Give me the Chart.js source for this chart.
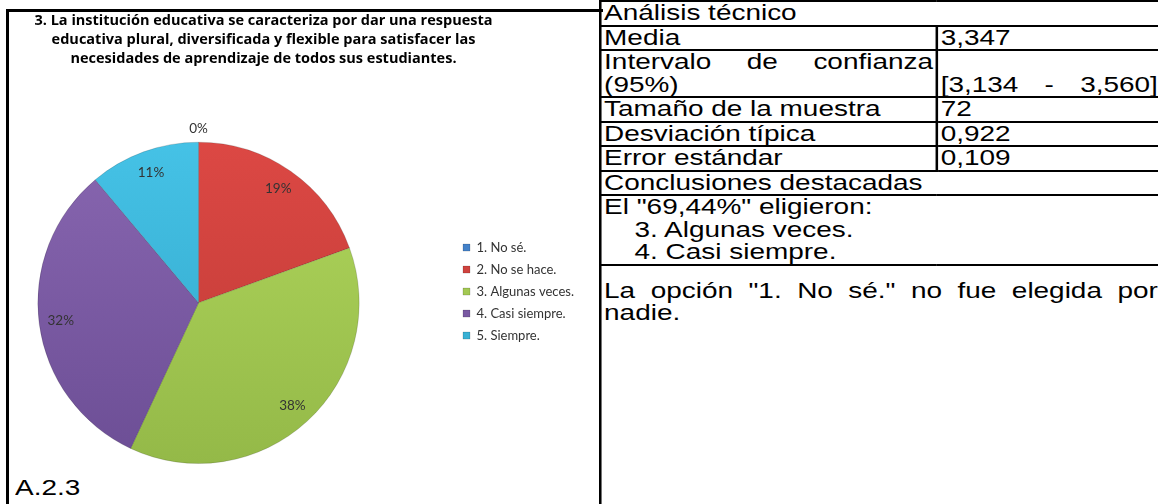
<!DOCTYPE html>
<html>
<head>
<meta charset="utf-8">
<script src="https://cdn.jsdelivr.net/npm/chart.js@4.4.0/dist/chart.umd.min.js"></script>
<style>
  html, body { margin: 0; padding: 0; background: #fff; width: 1158px; height: 504px; overflow: hidden; }
  #marco { position: absolute; left: 6px; top: 9px; width: 594px; height: 500px; border-left: 3px solid #000; border-top: 3px solid #000; }
  #grafico { position: absolute; left: -57px; top: 12px; width: 655px; height: 452px; }
  #codigo { position: absolute; left: 15px; top: 476px; font-family: "Liberation Sans", Arial, sans-serif; font-size: 22px; line-height: 24px; transform: scaleX(1.27); transform-origin: 0 0; }
  #tabla { position: absolute; left: 599px; top: 0; transform: scaleX(1.27); transform-origin: 0 0; }
  table { border-collapse: collapse; table-layout: fixed; width: 442px; font-family: "Liberation Sans", Arial, sans-serif; font-size: 22px; line-height: 22.5px; color: #000; }
  td { border: 2px solid #000; padding: 0 2px; vertical-align: top; }
  .just { text-align: justify; }
  .abajo { vertical-align: bottom; text-align: justify; text-align-last: justify; }
  .sangria { padding-left: 24px; }
  .final { height: 260px; padding-top: 14px; }
</style>
</head>
<body>
<div id="marco"></div>
<div id="grafico"><canvas id="chartPregunta"></canvas></div>
<div id="codigo">A.2.3</div>
<div id="tabla">
  <table>
    <colgroup><col style="width:265px"><col style="width:177px"></colgroup>
    <tr><td colspan="2">Análisis técnico</td></tr>
    <tr><td>Media</td><td>3,347</td></tr>
    <tr><td class="just">Intervalo de confianza (95%)</td><td class="abajo">[3,134 - 3,560]</td></tr>
    <tr><td>Tamaño de la muestra</td><td>72</td></tr>
    <tr><td>Desviación típica</td><td>0,922</td></tr>
    <tr><td>Error estándar</td><td>0,109</td></tr>
    <tr><td colspan="2">Conclusiones destacadas</td></tr>
    <tr><td colspan="2">El "69,44%" eligieron:<div class="sangria">3. Algunas veces.</div><div class="sangria">4. Casi siempre.</div></td></tr>
    <tr><td colspan="2" class="final just">La opción "1. No sé." no fue elegida por nadie.</td></tr>
  </table>
</div>

<script>
const titulo = [
    '3. La institución educativa se caracteriza por dar una respuesta',
    'educativa plural, diversificada y flexible para satisfacer las',
    'necesidades de aprendizaje de todos sus estudiantes.'
];
const categorias = ['1. No sé.', '2. No se hace.', '3. Algunas veces.', '4. Casi siempre.', '5. Siempre.'];
const respuestas = [0, 14, 27, 23, 8]; // 72 encuestados
const coloresClaros = ['#4A8AD2', '#DC4844', '#B0D65C', '#8866B0', '#45C2E6'];
const coloresOscuros = ['#3570B6', '#BD3A35', '#94B948', '#6C4E95', '#31A5C8'];

// degradado vertical para imitar el biselado de Excel
function relleno(context) {
    const area = context.chart.chartArea;
    const i = context.dataIndex;
    if (!area) return coloresClaros[i];
    const g = context.chart.ctx.createLinearGradient(0, area.top, 0, area.bottom);
    g.addColorStop(0, coloresClaros[i]);
    g.addColorStop(1, coloresOscuros[i]);
    return g;
}

const etiquetas = {
    id: 'etiquetas',
    afterDatasetsDraw(chart) {
        const ctx = chart.ctx;
        const total = respuestas.reduce((a, b) => a + b, 0);
        ctx.save();
        ctx.font = '13.5px Lato';
        ctx.fillStyle = '#333';
        ctx.textAlign = 'center';
        ctx.textBaseline = 'middle';
        chart.getDatasetMeta(0).data.forEach((arc, i) => {
            const p = arc.getProps(['x', 'y', 'startAngle', 'endAngle', 'outerRadius'], true);
            const medio = (p.startAngle + p.endAngle) / 2;
            const r = respuestas[i] === 0 ? p.outerRadius + 14 : p.outerRadius * 0.865;
            const texto = Math.round(respuestas[i] / total * 100) + '%';
            ctx.fillText(texto, p.x + Math.cos(medio) * r, p.y + Math.sin(medio) * r);
        });
        ctx.restore();
    }
};

const ctx = document.getElementById('chartPregunta').getContext('2d');
new Chart(ctx, {
    type: 'pie',
    data: {
        labels: categorias,
        datasets: [{
            data: respuestas,
            backgroundColor: relleno,
            borderColor: 'rgba(0,0,0,0.15)',
            borderWidth: 1,
            hoverOffset: 0
        }]
    },
    options: {
        responsive: true,
        maintainAspectRatio: false,
        animation: false,
        layout: { padding: { right: 14 } },
        plugins: {
            tooltip: { enabled: false },
            title: {
                display: true,
                text: titulo,
                color: '#000',
                font: { family: 'Open Sans', size: 14.5, weight: 'bold', lineHeight: 1.28 },
                padding: { top: 0, bottom: 74 }
            },
            legend: {
                position: 'right',
                align: 'start',
                fullSize: false,
                title: { display: true, text: ' ', font: { size: 12, lineHeight: 1.2 }, padding: 38 },
                labels: {
                    boxWidth: 7,
                    boxHeight: 7,
                    padding: 9,
                    color: '#333',
                    font: { family: 'Lato', size: 13 }
                }
            }
        }
    },
    plugins: [etiquetas]
});
</script>
</body>
</html>
